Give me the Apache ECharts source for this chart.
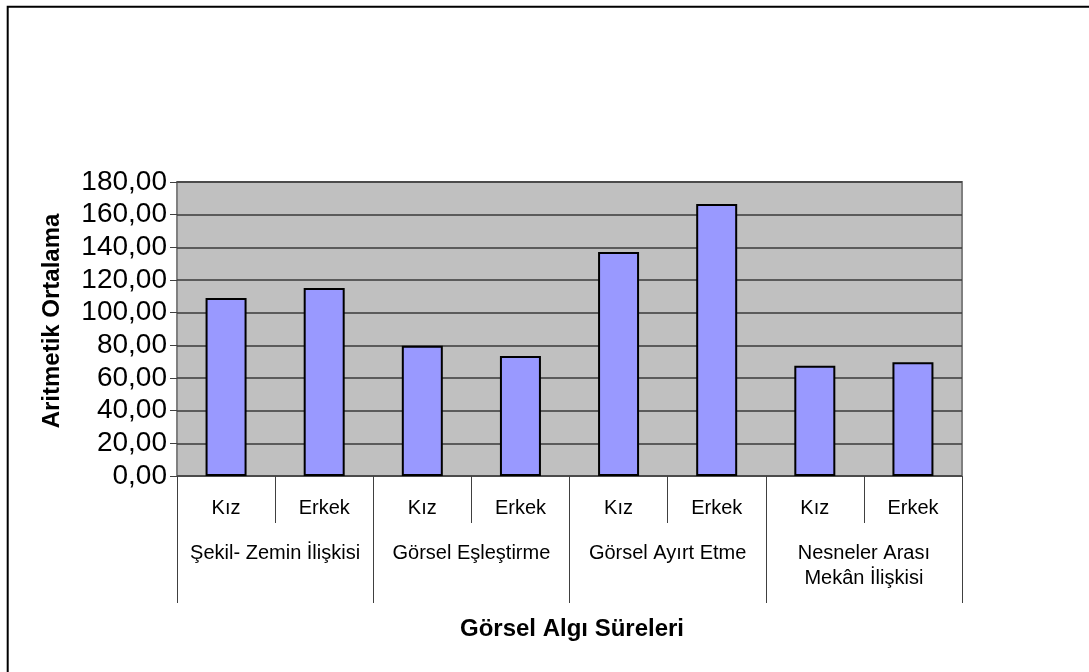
<!DOCTYPE html>
<html>
<head>
<meta charset="utf-8">
<script src="https://cdn.jsdelivr.net/npm/echarts@6/dist/echarts.min.js"></script>
<style>
html,body{margin:0;padding:0;background:#fff;}
#c{width:1089px;height:672px;}
</style>
</head>
<body>
<div id="c"></div>
<script>
const subCategories = ['Kız', 'Erkek', 'Kız', 'Erkek', 'Kız', 'Erkek', 'Kız', 'Erkek'];
const groupCategories = ['Şekil- Zemin İlişkisi', 'Görsel Eşleştirme', 'Görsel Ayırt Etme', 'Nesneler Arası\nMekân İlişkisi'];
const meanValues = [109.0, 115.1, 79.7, 73.5, 137.2, 166.6, 67.5, 69.6];
const yTitle = 'Aritmetik Ortalama';
const xTitle = 'Görsel Algı Süreleri';

const FONT = "'Liberation Sans', Arial, sans-serif";
const chart = echarts.init(document.getElementById('c'), null, {renderer: 'canvas'});
chart.setOption({
  animation: false,
  backgroundColor: '#ffffff',
  textStyle: {fontFamily: FONT},
  grid: {
    left: 177, top: 182, width: 785, height: 294,
    show: true, backgroundColor: '#C0C0C0', borderColor: '#808080', borderWidth: 2,
    containLabel: false, outerBoundsMode: 'none'
  },
  xAxis: [
    {
      type: 'category', data: subCategories, position: 'bottom',
      axisLine: {show: false},
      axisTick: {show: true, interval: 0, length: 47, lineStyle: {color: '#404040', width: 1}},
      axisLabel: {interval: 0, margin: 22, fontSize: 20, lineHeight: 20, color: '#000', fontFamily: FONT},
      splitLine: {show: false}
    },
    {
      type: 'category', data: groupCategories, position: 'bottom',
      axisLine: {show: false},
      axisTick: {show: true, interval: 0, length: 127, lineStyle: {color: '#404040', width: 1}},
      axisLabel: {interval: 0, margin: 65, fontSize: 20, lineHeight: 25, color: '#000', fontFamily: FONT},
      splitLine: {show: false}
    }
  ],
  yAxis: {
    type: 'value', min: 0, max: 180, interval: 20,
    axisLine: {show: false},
    axisTick: {show: true, length: 7, lineStyle: {color: '#404040'}},
    axisLabel: {
      margin: 10, fontSize: 28, color: '#000', fontFamily: FONT,
      formatter: v => v.toFixed(2).replace('.', ',')
    },
    splitLine: {show: true, lineStyle: {color: '#3a3a3a', width: 1.5}}
  },
  series: [{
    type: 'bar', xAxisIndex: 0, data: meanValues, barWidth: 41,
    itemStyle: {color: '#9999FF', borderColor: '#000', borderWidth: 2}
  }],
  graphic: [
    {type: 'rect', shape: {x: 7.7, y: 6.7, width: 1200, height: 800}, style: {fill: 'none', stroke: '#000', lineWidth: 2}, silent: true},
    {type: 'text', x: 52, y: 321, rotation: Math.PI / 2,
     style: {text: yTitle, font: "bold 24px " + FONT, fill: '#000', align: 'center', verticalAlign: 'middle'}},
    {type: 'text', x: 572, y: 629,
     style: {text: xTitle, font: "bold 24px " + FONT, fill: '#000', align: 'center', verticalAlign: 'middle'}}
  ]
});
</script>
</body>
</html>
